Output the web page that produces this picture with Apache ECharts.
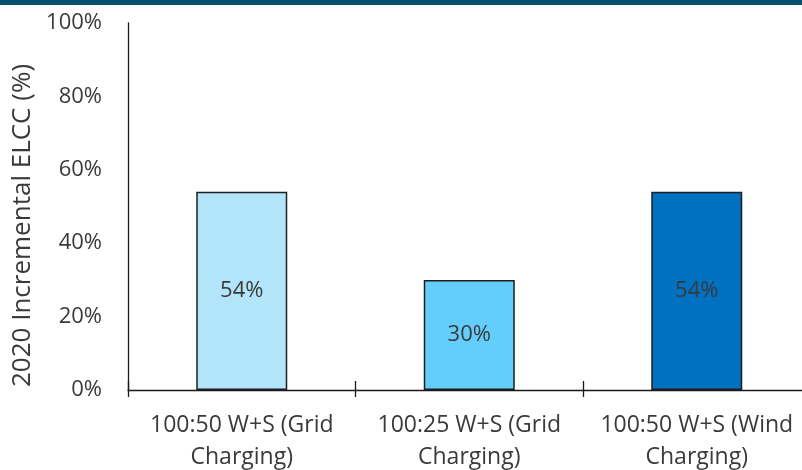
<!DOCTYPE html>
<html>
<head>
<meta charset="utf-8">
<script src="https://cdn.jsdelivr.net/npm/echarts@6/dist/echarts.min.js"></script>
<style>
  html, body { margin: 0; padding: 0; background: #ffffff; overflow: hidden; }
  #chart { width: 802px; height: 470px; }
</style>
</head>
<body>
<div id="chart"></div>
<script>
// Scenario categories along the x axis
const categories = [
  '100:50 W+S (Grid\nCharging)',
  '100:25 W+S (Grid\nCharging)',
  '100:50 W+S (Wind\nCharging)'
];
// 2020 incremental ELCC, percent
const elccValues = [54, 30, 54];
const barColors = ['#B3E5FA', '#63CDFB', '#0070C0'];
// y axis ticks
const yMin = 0, yMax = 100, yStep = 20;

const FONT = 'Open Sans';
const TEXT = '#3a3a3a';
const LINE = '#1a1a1a';

const chart = echarts.init(document.getElementById('chart'), null, { renderer: 'canvas' });
chart.setOption({
  animation: false,
  backgroundColor: '#ffffff',
  graphic: [{
    type: 'rect',
    shape: { x: 0, y: 0, width: 802, height: 5 },
    style: { fill: '#03506F' },
    z: 10
  }],
  // the plot area runs a little past the right edge of the canvas
  grid: { left: 128, right: -8.5, top: 23, bottom: 80, outerBoundsMode: 'none', containLabel: false },
  xAxis: [{
    type: 'category',
    data: categories,
    axisLine: { lineStyle: { color: LINE, width: 1.3 } },
    axisTick: { show: true, length: 7, lineStyle: { color: LINE, width: 1.3 } },
    axisLabel: {
      color: TEXT, fontFamily: FONT, fontSize: 23, lineHeight: 32, margin: 19, interval: 0
    }
  }, {
    // upper half of the crossing tick marks
    type: 'category',
    data: categories,
    position: 'bottom',
    axisLine: { show: false },
    axisTick: { show: true, inside: true, length: 9, lineStyle: { color: LINE, width: 1.3 } },
    axisLabel: { show: false }
  }],
  yAxis: {
    type: 'value',
    min: yMin, max: yMax, interval: yStep,
    name: '2020 Incremental ELCC (%)',
    nameLocation: 'middle',
    nameGap: 78,
    nameRotate: 90,
    nameTextStyle: { color: TEXT, fontFamily: FONT, fontSize: 26, padding: [0, 38, 0, 0] },
    axisLine: { show: true, lineStyle: { color: LINE, width: 1.3 } },
    axisTick: { show: false },
    splitLine: { show: false },
    axisLabel: {
      color: TEXT, fontFamily: FONT, fontSize: 22, margin: 26,
      formatter: v => v + '%'
    }
  },
  series: [{
    type: 'bar',
    barWidth: '40%',
    data: elccValues.map((v, i) => ({
      value: v,
      itemStyle: { color: barColors[i] }
    })),
    itemStyle: { borderColor: '#1e1e1e', borderWidth: 1.5 },
    label: {
      show: true,
      position: 'inside',
      color: TEXT,
      fontFamily: FONT,
      fontSize: 22,
      formatter: p => p.value + '%'
    }
  }]
});
</script>
</body>
</html>
